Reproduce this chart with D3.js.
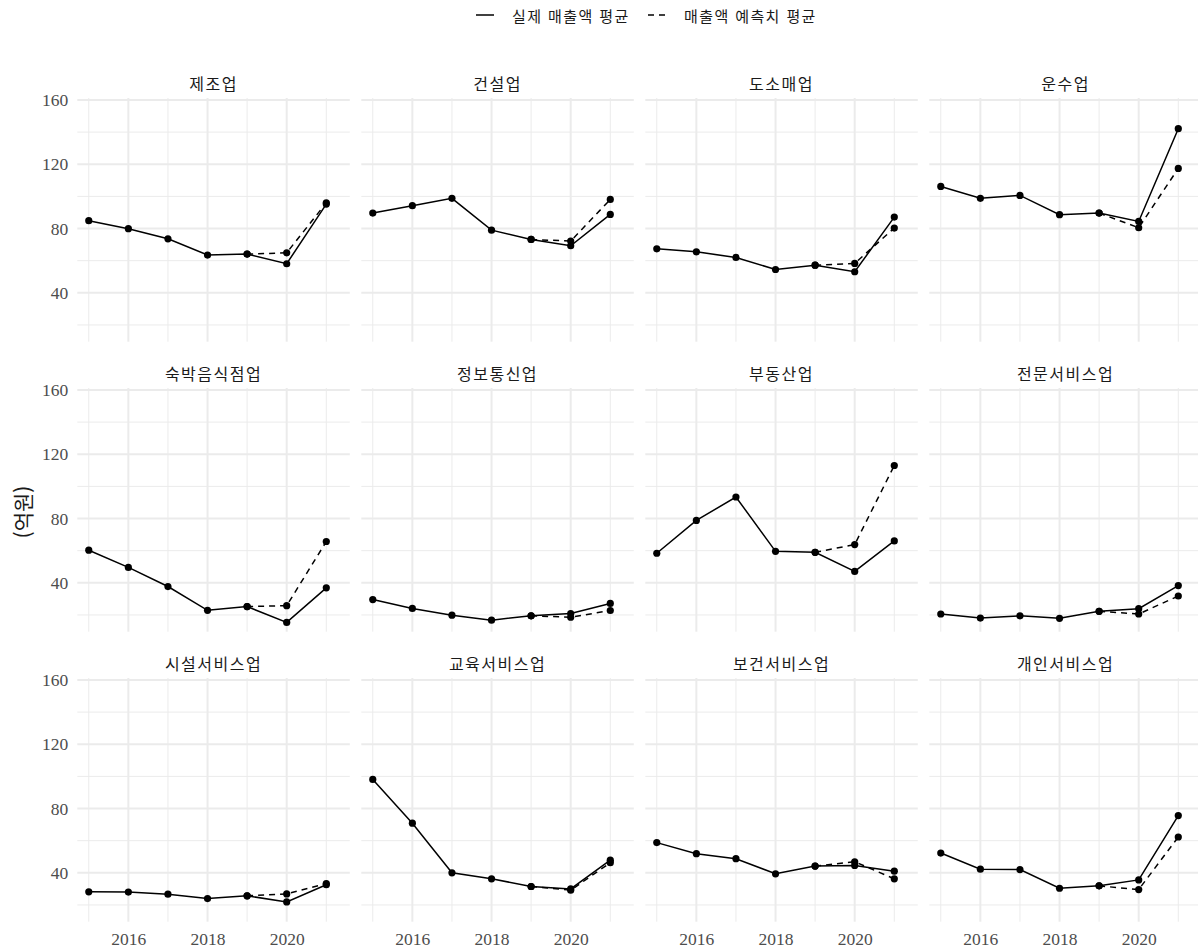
<!DOCTYPE html>
<html lang="ko">
<head>
<meta charset="utf-8">
<script src="https://cdn.jsdelivr.net/npm/d3@7"></script>
<style>
  html, body { margin: 0; padding: 0; background: #ffffff; }
  svg { display: block; }
</style>
</head>
<body>
<svg id="chart" width="1198" height="949"></svg>
<script>
// Industry panels, in facet order (4 columns x 3 rows)
const industries = [
  "제조업", "건설업", "도소매업", "운수업",
  "숙박음식점업", "정보통신업", "부동산업", "전문서비스업",
  "시설서비스업", "교육서비스업", "보건서비스업", "개인서비스업"
];

const years = [2015, 2016, 2017, 2018, 2019, 2020, 2021];

// Actual average sales (억원), one row per industry, 2015–2021
const actualSales = [
  [84.9, 79.9, 73.6, 63.5, 64.1, 58.1, 95.2],
  [89.6, 94.2, 98.8, 79.0, 73.2, 69.3, 88.8],
  [67.4, 65.5, 62.0, 54.5, 57.2, 53.1, 87.1],
  [106.2, 98.8, 100.6, 88.6, 89.6, 84.4, 142.1],
  [60.3, 49.6, 37.7, 22.9, 25.2, 15.4, 36.9],
  [29.6, 24.1, 19.9, 16.8, 19.5, 20.9, 27.2],
  [58.4, 78.8, 93.4, 59.6, 59.0, 47.1, 66.1],
  [20.6, 18.1, 19.5, 17.9, 22.3, 23.9, 38.3],
  [28.2, 28.0, 26.7, 24.0, 25.7, 21.9, 32.6],
  [98.1, 70.9, 40.0, 36.3, 31.5, 30.0, 47.9],
  [58.8, 51.9, 48.8, 39.4, 44.2, 44.6, 41.0],
  [52.3, 42.3, 42.0, 30.4, 31.9, 35.6, 75.6]
];

// Forecast average sales (억원), 2019–2021
const forecastYears = [2019, 2020, 2021];
const forecastSales = [
  [64.1, 64.9, 96.0],
  [73.2, 72.2, 98.1],
  [57.2, 58.3, 80.3],
  [89.6, 80.5, 117.4],
  [25.2, 25.8, 65.7],
  [19.5, 18.6, 22.8],
  [59.0, 63.8, 113.0],
  [22.3, 20.6, 31.8],
  [25.7, 26.9, 33.3],
  [31.5, 29.2, 46.3],
  [44.2, 46.9, 36.3],
  [31.9, 29.6, 62.3]
];

const yMajorTicks = [40, 80, 120, 160];
const yMinorTicks = [20, 60, 100, 140];
const xMajorTicks = [2016, 2018, 2020];
const xMinorTicks = [2015, 2017, 2019, 2021];

const legendLabels = ["실제 매출액 평균", "매출액 예측치 평균"];
const yAxisTitle = "(억원)";

// ---- layout ----
const svg = d3.select("#chart");
const nCols = 4;
const panelW = 272.5, panelH = 243.7;
const colLeft0 = 77.3, colStep = 284;
const rowTop0 = 98, rowStep = 290;

const korean = "'Noto Sans CJK KR', 'Noto Sans', sans-serif";
const serif = "'Liberation Serif', 'DejaVu Serif', serif";
const gridColor = "#ebebeb";

const x = d3.scaleLinear().domain([2014.71, 2021.594]).range([0, panelW]);
const y = d3.scaleLinear().domain([9.6, 161.2]).range([panelH, 0]);

const lineGen = d3.line().x(d => x(d[0])).y(d => y(d[1]));

industries.forEach((name, i) => {
  const col = i % nCols, row = Math.floor(i / nCols);
  const g = svg.append("g")
    .attr("transform", `translate(${colLeft0 + col * colStep},${rowTop0 + row * rowStep})`);

  // grid: minor then major
  g.selectAll(".ymin").data(yMinorTicks).join("line")
    .attr("x1", 0).attr("x2", panelW)
    .attr("y1", d => y(d)).attr("y2", d => y(d))
    .attr("stroke", gridColor).attr("stroke-width", 1);
  g.selectAll(".xmin").data(xMinorTicks).join("line")
    .attr("y1", 0).attr("y2", panelH)
    .attr("x1", d => x(d)).attr("x2", d => x(d))
    .attr("stroke", gridColor).attr("stroke-width", 1);
  g.selectAll(".ymaj").data(yMajorTicks).join("line")
    .attr("x1", 0).attr("x2", panelW)
    .attr("y1", d => y(d)).attr("y2", d => y(d))
    .attr("stroke", gridColor).attr("stroke-width", 2);
  g.selectAll(".xmaj").data(xMajorTicks).join("line")
    .attr("y1", 0).attr("y2", panelH)
    .attr("x1", d => x(d)).attr("x2", d => x(d))
    .attr("stroke", gridColor).attr("stroke-width", 2);

  // strip title
  g.append("text")
    .attr("x", panelW / 2).attr("y", -15.5)
    .attr("text-anchor", "middle").attr("dominant-baseline", "central")
    .attr("font-family", korean).attr("font-size", 16)
    .attr("letter-spacing", 1.5)
    .attr("fill", "#1a1a1a")
    .text(name);

  const actualPts = years.map((yr, k) => [yr, actualSales[i][k]]);
  const forecastPts = forecastYears.map((yr, k) => [yr, forecastSales[i][k]]);

  g.append("path").datum(forecastPts)
    .attr("d", lineGen).attr("fill", "none")
    .attr("stroke", "#000").attr("stroke-width", 1.5)
    .attr("stroke-dasharray", "6,5");
  g.append("path").datum(actualPts)
    .attr("d", lineGen).attr("fill", "none")
    .attr("stroke", "#000").attr("stroke-width", 1.5);

  g.selectAll(".pa").data(actualPts).join("circle")
    .attr("cx", d => x(d[0])).attr("cy", d => y(d[1])).attr("r", 3.6)
    .attr("fill", "#000");
  g.selectAll(".pf").data(forecastPts).join("circle")
    .attr("cx", d => x(d[0])).attr("cy", d => y(d[1])).attr("r", 3.6)
    .attr("fill", "#000");

  // y axis on the left column
  if (col === 0) {
    const ay = g.append("g").call(d3.axisLeft(y).tickValues(yMajorTicks).tickSize(0).tickPadding(9));
    ay.select(".domain").remove();
    ay.selectAll("text").attr("font-family", serif).attr("font-size", 17.5).attr("fill", "#4d4d4d");
  }
  // x axis on the bottom row
  if (row === 2) {
    const ax = g.append("g").attr("transform", `translate(0,${panelH})`)
      .call(d3.axisBottom(x).tickValues(xMajorTicks).tickFormat(d3.format("d")).tickSize(0).tickPadding(11));
    ax.select(".domain").remove();
    ax.selectAll("text").attr("font-family", serif).attr("font-size", 17.5).attr("fill", "#4d4d4d");
  }
});

// y axis title
svg.append("text")
  .attr("transform", "translate(22,512) rotate(-90)")
  .attr("text-anchor", "middle").attr("dominant-baseline", "central")
  .attr("font-family", korean).attr("font-size", 21)
  .attr("fill", "#1a1a1a")
  .text(yAxisTitle);

// legend
const legend = svg.append("g").attr("transform", "translate(0,15)");
const legendItems = [
  { label: legendLabels[0], x0: 476, dash: null },
  { label: legendLabels[1], x0: 648, dash: "6,5" }
];
legendItems.forEach(it => {
  legend.append("line")
    .attr("x1", it.x0).attr("x2", it.x0 + 18).attr("y1", 0).attr("y2", 0)
    .attr("stroke", "#000").attr("stroke-width", 1.5)
    .attr("stroke-dasharray", it.dash);
  legend.append("text")
    .attr("x", it.x0 + 36).attr("y", 0)
    .attr("dominant-baseline", "central")
    .attr("font-family", korean).attr("font-size", 15)
    .attr("letter-spacing", 1.4)
    .attr("fill", "#1a1a1a")
    .text(it.label);
});
</script>
</body>
</html>
